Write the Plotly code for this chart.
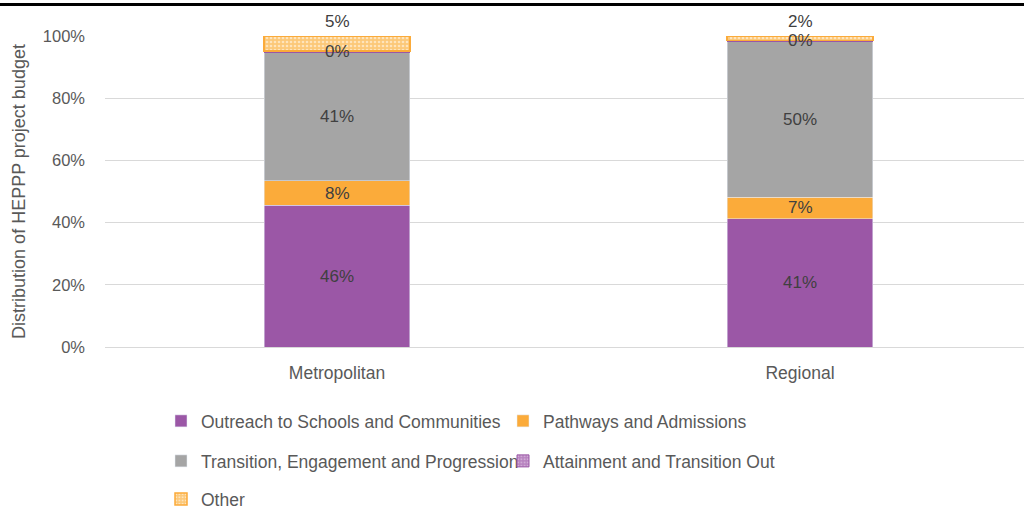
import plotly.graph_objects as go

categories = ["Metropolitan", "Regional"]
series_names = [
    "Outreach to Schools and Communities",
    "Pathways and Admissions",
    "Transition, Engagement and Progression",
    "Attainment and Transition Out",
    "Other",
]
outreach = [45.6, 41.2]
pathways = [7.8, 7.0]
transition = [41.4, 50.1]
attainment = [0.3, 0.2]
other = [4.9, 1.5]
label_outreach = ["46%", "41%"]
label_pathways = ["8%", "7%"]
label_transition = ["41%", "50%"]
label_attainment = ["0%", "0%"]
label_other = ["5%", "2%"]
y_ticks = [0, 20, 40, 60, 80, 100]
y_ticklabels = ["0%", "20%", "40%", "60%", "80%", "100%"]

FONT = "Liberation Sans, Arial, sans-serif"
TXT = "#595959"
LBL = "#404040"
PURPLE = "#9B57A6"
ORANGE = "#FBAB3A"
GRAY = "#A5A5A5"

series = [outreach, pathways, transition, attainment, other]
labels = [label_outreach, label_pathways, label_transition, label_attainment, label_other]
legends = ["legend", "legend", "legend2", "legend2", "legend3"]

fig = go.Figure()
styles = [
    dict(color=PURPLE),
    dict(color=ORANGE),
    dict(color=GRAY),
    dict(color=PURPLE, line=dict(color=PURPLE, width=1),
         pattern=dict(shape=".", fgcolor="#E8D5EC", bgcolor="#B883C0", size=4, solidity=0.35)),
    dict(color=ORANGE, line=dict(color=ORANGE, width=1.5),
         pattern=dict(shape=".", fgcolor="white", bgcolor="#FCC878", size=4, solidity=0.35)),
]
for name, vals, st, lg in zip(series_names, series, styles, legends):
    fig.add_trace(go.Bar(
        x=categories, y=vals, name=name, marker=st, width=0.315,
        legend=lg, hoverinfo="skip",
    ))

# data labels
for ci, cat in enumerate(categories):
    base = 0.0
    for si, vals in enumerate(series):
        v = vals[ci]
        top = min(round(base + v, 6), 100)
        if si < 3:
            fig.add_annotation(x=cat, y=base + v / 2, text=labels[si][ci], showarrow=False,
                               font=dict(family=FONT, size=17, color=LBL))
        elif si == 3:
            fig.add_annotation(x=cat, y=top, text=labels[si][ci], showarrow=False,
                               font=dict(family=FONT, size=17, color=LBL))
        else:
            fig.add_annotation(x=cat, y=top, text=labels[si][ci], showarrow=False,
                               yanchor="bottom", yshift=3,
                               font=dict(family=FONT, size=17, color=LBL))
        base += v

# top border line
fig.add_shape(type="line", xref="paper", yref="paper", x0=-0.12, x1=1.01,
              y0=(347 - 4.5) / 311, y1=(347 - 4.5) / 311,
              line=dict(color="black", width=3))

legend_common = dict(orientation="h", xanchor="left", yanchor="middle", entrywidth=297,
                     entrywidthmode="pixels", bgcolor="rgba(0,0,0,0)",
                     xref="container", yref="container",
                     font=dict(family=FONT, size=17.5, color=TXT), itemclick=False,
                     traceorder="normal")

fig.update_layout(
    width=1024, height=510,
    margin=dict(l=105, r=0, t=36, b=163, autoexpand=False),
    barmode="stack",
    plot_bgcolor="white", paper_bgcolor="white",
    font=dict(family=FONT, size=17, color=TXT),
    showlegend=True,
    xaxis=dict(range=[-232 / 463, -232 / 463 + 919 / 463], showline=True, linecolor="#D9D9D9",
               linewidth=1, ticks="", ticklabelstandoff=10,
               tickfont=dict(family=FONT, size=17.5, color=TXT), fixedrange=True),
    yaxis=dict(range=[0, 100], tickvals=y_ticks, ticktext=y_ticklabels,
               showgrid=True, gridcolor="#D9D9D9", gridwidth=1, zeroline=False,
               ticks="", ticklabelstandoff=19, tickfont=dict(family=FONT, size=16.5, color=TXT),
               fixedrange=True,
               title=dict(text="Distribution of HEPPP project budget", standoff=12,
                          font=dict(family=FONT, size=18, color=TXT))),
    legend=dict(legend_common, x=161 / 1024, y=1 - 421 / 510),
    legend2=dict(legend_common, x=161 / 1024, y=1 - 461 / 510),
    legend3=dict(legend_common, x=161 / 1024, y=1 - 499 / 510),
)

fig.write_html("out.html", config={"displayModeBar": False},
               post_script="document.body.style.margin='0px';document.body.style.overflow='hidden';")
